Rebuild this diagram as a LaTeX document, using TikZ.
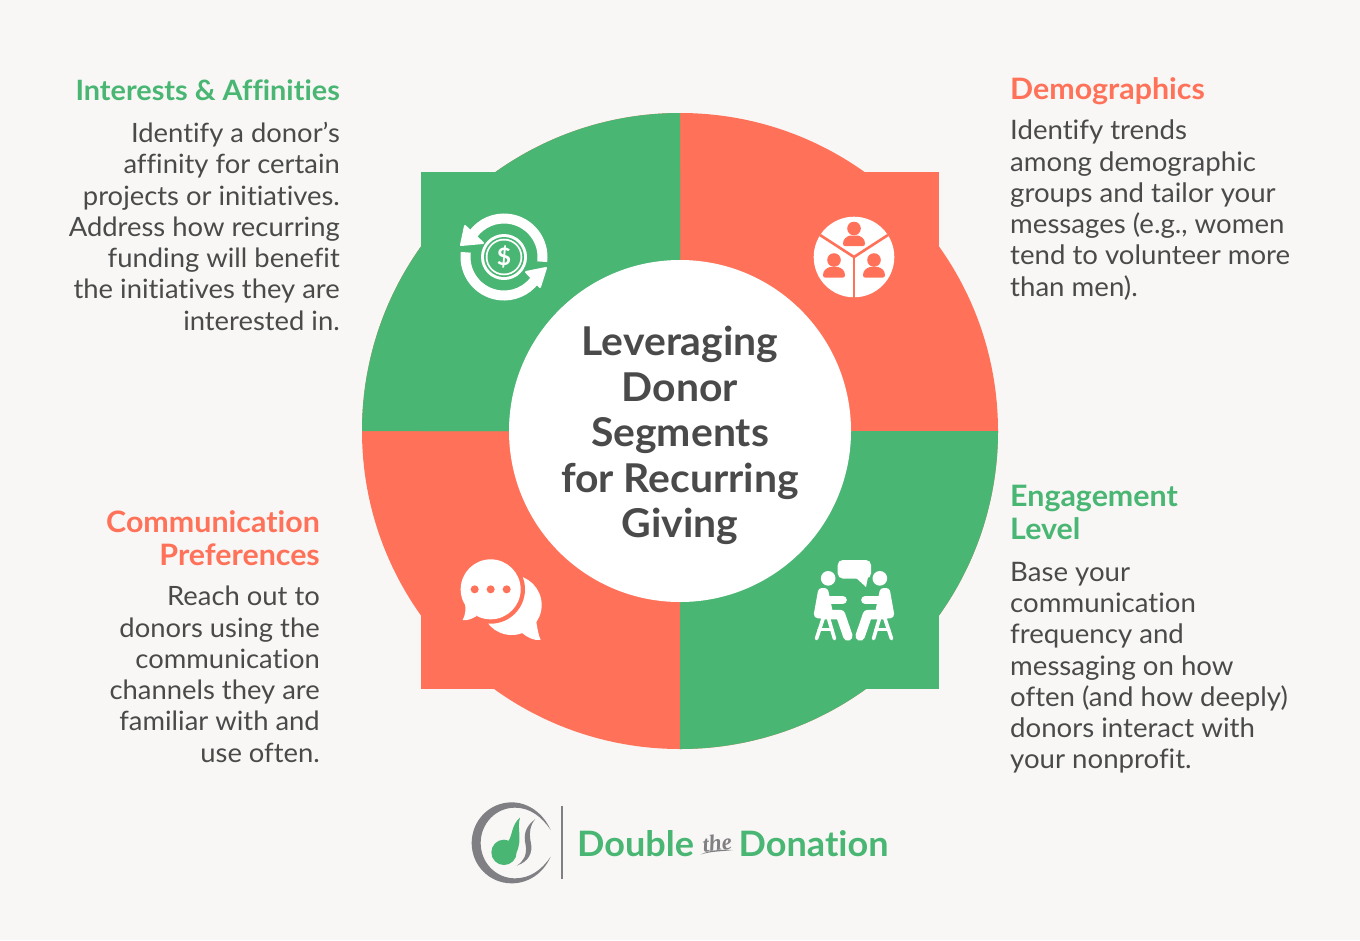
\documentclass[tikz,border=0pt]{standalone}
\usepackage{fontspec}
\setmainfont[FakeStretch=1.03,Ligatures=NoCommon]{Lato}
\newfontfamily\thefont{Liberation Serif}
\definecolor{pagebg}{HTML}{F8F7F5}
\definecolor{leaf}{HTML}{49B673}
\definecolor{coral}{HTML}{FF7259}
\definecolor{ink}{HTML}{4A4A4A}
\definecolor{logogray}{HTML}{808084}
\tikzset{
  bodyleft/.style={anchor=north west,align=left,inner sep=0pt,text=ink,font=\fontsize{26.8}{31.25}\selectfont},
  bodyright/.style={anchor=north east,align=right,inner sep=0pt,text=ink,font=\fontsize{26.6}{31.25}\selectfont},
  headleft/.style={anchor=north west,align=left,inner sep=0pt,font=\fontsize{29.5}{33}\selectfont\bfseries},
  headright/.style={anchor=north east,align=right,inner sep=0pt,font=\fontsize{29.5}{33}\selectfont\bfseries},
  logoword/.style={anchor=base west,inner sep=0pt,text=leaf,font=\fontsize{35}{40}\selectfont\bfseries},
  ringarc/.style={draw=white,line width=10pt},
  sitterlimb/.style={draw=white,line width=9.5pt,line cap=round,line join=round},
  sitterbar/.style={draw=white,line width=3.6pt,line cap=round},
}
% Person with a rounded shoulder bust; origin is the top centre of the shoulders
\tikzset{bust/.pic={
  \fill[coral] (0,-7) circle (6.8);
  \fill[coral] (-11,8) .. controls (-11,3) and (-7,1) .. (-4,0) -- (4,0)
     .. controls (7,1) and (11,3) .. (11,8) .. controls (11,10) and (10,10.5) .. (9,10.5)
     -- (-9,10.5) .. controls (-10,10.5) and (-11,10) .. (-11,8) -- cycle;
}}
% One seated figure, in thirds of a unit
\newcommand{\sitterfig}{
  \fill[white] (85,85) circle (22);
  % chair
  \draw[sitterbar] (70,205) -- (50,266);
  \draw[sitterbar] (86,205) -- (104,266);
  \draw[sitterbar] (58,238) -- (96,238);
  % torso, forearm, thigh and shin
  \fill[white,draw=white,line width=8pt,line join=round] (54,193) -- (66,126) -- (74,126) -- (88,192) -- cycle;
  \draw[white,line width=8pt,line cap=round] (85,150) -- (129,150);
  \draw[sitterlimb] (70,194) -- (122,194) -- (144,258);
}
\begin{document}
\begin{tikzpicture}[x=1pt,y=-1pt]
\useasboundingbox (0,0) rectangle (1360,940);
\fill[pagebg] (0,0) rectangle (1360,940);

% Four-part wheel: a circle merged with a square
\fill[coral] (680,431) circle (318);
\fill[coral] (421,172) rectangle (939,689);
\begin{scope}
  \clip (300,50) rectangle (680,431) (680,431) rectangle (1060,810);
  \fill[leaf] (680,431) circle (318);
  \fill[leaf] (421,172) rectangle (939,689);
\end{scope}
\node[circle,fill=white,minimum size=342pt,inner sep=0pt] (hub) at (680,431) {};
\node[align=center,inner sep=0pt,text=ink,font=\fontsize{39.7}{45.6}\selectfont\bfseries] (title) at (680,435.5)
  {Leveraging\\Donor\\Segments\\for Recurring\\Giving};

% Recurring money icon
\draw[ringarc] (504,257) ++(7:38.5) arc[start angle=7,end angle=-143,radius=38.5];
\draw[ringarc] (504,257) ++(187:38.5) arc[start angle=187,end angle=37,radius=38.5];
\fill[white,draw=white,line width=2pt,line join=round] (465,226) -- (461,245) -- (483,243) -- cycle;
\fill[white,draw=white,line width=2pt,line join=round] (546,268) -- (540,287) -- (526,272) -- cycle;
\fill[white] (504,257) circle (23);
\fill[leaf] (504,257) circle (20);
\fill[white] (504,257) circle (18.3);
\fill[leaf] (504,257) circle (16.5);
\node[text=white,inner sep=0pt,font=\fontsize{24}{24}\selectfont\bfseries] (dollar) at (504,257) {\$};

% Three-person icon
\fill[white] (854,257) circle (40.3);
\draw[coral,line width=2.6pt] (854,257) -- (854,298);
\draw[coral,line width=2.6pt] (854,257) -- (820,235);
\draw[coral,line width=2.6pt] (854,257) -- (888,235);
\pic at (854,235.5) {bust};
\pic at (834,267) {bust};
\pic at (874,267) {bust};

% Two seated people with a speech bubble
\fill[white,rounded corners=5pt] (837.7,560) rectangle (871,578.5);
\fill[white,line join=round] (855,577) -- (866,587) -- (868,577) -- cycle;
\begin{scope}[shift={(799.83,550)},scale=1/3]
  \sitterfig
\end{scope}
\begin{scope}[shift={(908.17,550)},xscale=-1/3,yscale=1/3]
  \sitterfig
\end{scope}

% Overlapping chat bubbles
\begin{scope}[shift={(450,550)},scale=1/3]
  \fill[white] (185,165) circle (90);
  \fill[white] (258,210) .. controls (262,235) and (265,255) .. (272,270)
     .. controls (250,272) and (232,262) .. (215,248) -- cycle;
  \fill[coral] (122,118) circle (103);
  \fill[white] (122,118) circle (90);
  \fill[white] (45,160) .. controls (48,180) and (46,195) .. (38,210)
     .. controls (52,212) and (65,207) .. (80,198) -- cycle;
  \fill[coral] (74,118) circle (12);
  \fill[coral] (122,118) circle (12);
  \fill[coral] (170,118) circle (12);
\end{scope}

% Side texts
\node[headright,text=leaf,font=\fontsize{28}{33}\selectfont\bfseries] (h1) at (340,80) {Interests \& Affinities};
\node[bodyright] (b1) at (340,122) {Identify a donor's\\affinity for certain\\projects or initiatives.\\Address how recurring\\funding will benefit\\the initiatives they are\\interested in.};
\node[headleft,text=coral] (h2) at (1010,77) {Demographics};
\node[bodyleft] (b2) at (1010,120) {Identify trends\\among demographic\\groups and tailor your\\messages (e.g., women\\tend to volunteer more\\than men).};
\node[headright,text=coral] (h3) at (320,510) {Communication\\Preferences};
\node[bodyright] (b3) at (320,586) {Reach out to\\donors using the\\communication\\channels they are\\familiar with and\\use often.};
\node[headleft,text=leaf] (h4) at (1010,485) {Engagement\\Level};
\node[bodyleft] (b4) at (1010,562) {Base your\\communication\\frequency and\\messaging on how\\often (and how deeply)\\donors interact with\\your nonprofit.};

% Logo mark
\begin{scope}[shift={(460,795)},scale=1/3]
  \fill[logogray] (272,105) .. controls (250,55) and (205,22) .. (155,22)
     .. controls (88,22) and (35,77) .. (35,144) .. controls (35,211) and (88,265) .. (155,265)
     .. controls (205,265) and (250,235) .. (272,185) .. controls (245,225) and (210,250) .. (165,250)
     .. controls (107,250) and (62,202) .. (62,144) .. controls (62,86) and (107,38) .. (165,38)
     .. controls (210,38) and (245,65) .. (272,105) -- cycle;
  \fill[leaf] (132,172) circle (38);
  \fill[leaf] (146,138) .. controls (160,110) and (155,90) .. (180,68)
     .. controls (170,100) and (188,130) .. (170,172) -- cycle;
  \fill[logogray] (226,72) .. controls (195,95) and (190,120) .. (197,150)
     .. controls (202,180) and (190,200) .. (170,212) .. controls (205,200) and (220,175) .. (212,140)
     .. controls (207,115) and (210,90) .. (226,72) -- cycle;
\end{scope}
\coordinate (ruletop) at (562,806);
\coordinate (rulebot) at (562,879);
\draw[logogray,line width=1.2pt] (ruletop) -- (rulebot);
\node[logoword] (w1) at (577,856) {Double};
\node[logoword] (w2) at (738.5,856) {Donation};
\node[inner sep=0pt,rotate=8,text=logogray,font=\thefont\fontsize{23}{23}\selectfont\itshape\bfseries] (the) at (717,843) {the};
\fill[logogray] (700.5,854.5) .. controls (712,849) and (722,850) .. (733,850) .. controls (722,851.5) and (712,851) .. (700.5,854.5) -- cycle;
\end{tikzpicture}
\end{document}
